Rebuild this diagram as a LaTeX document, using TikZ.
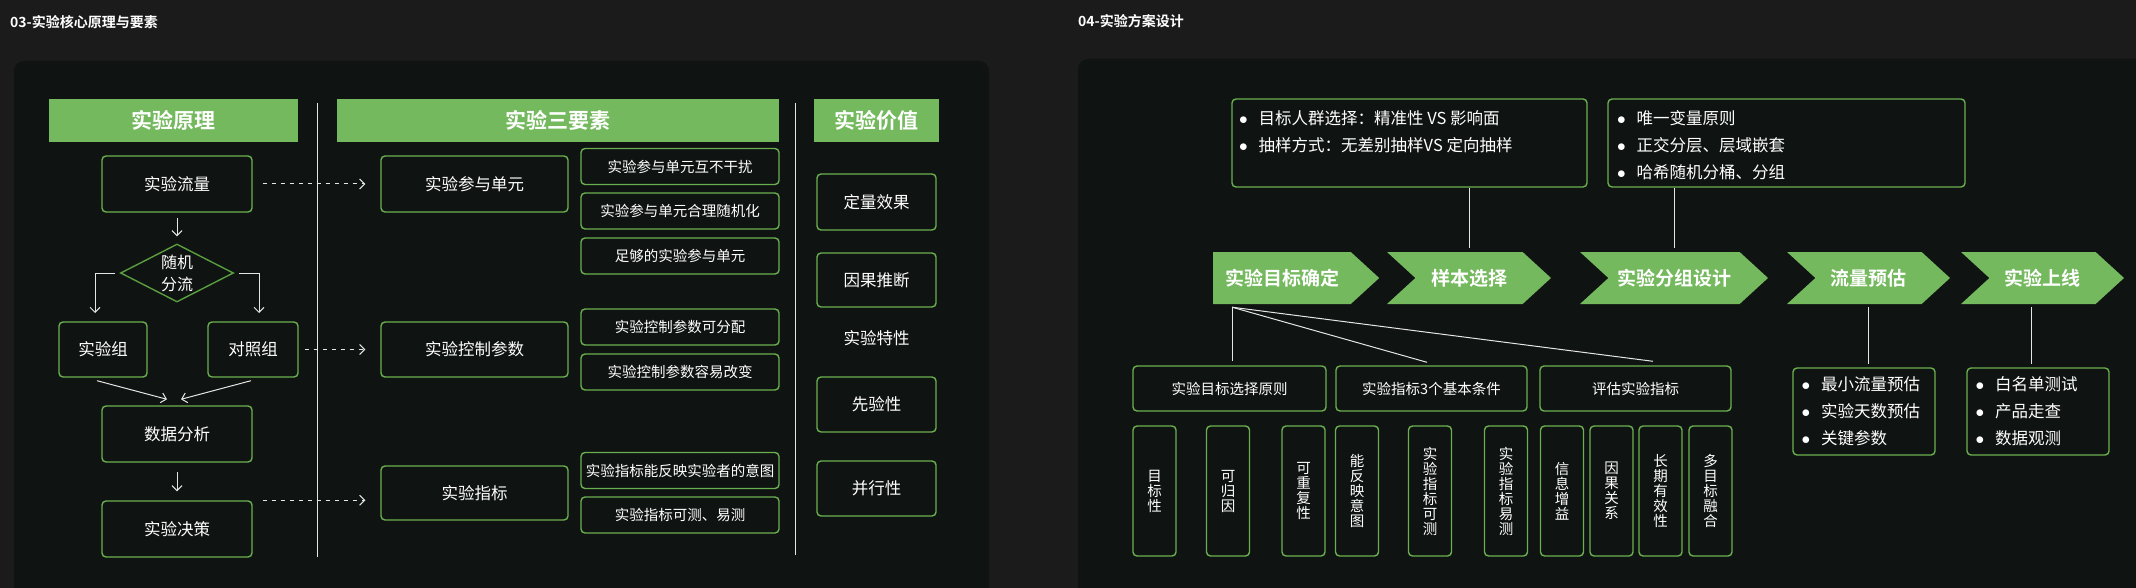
\documentclass[tikz,border=0pt]{standalone}
\usepackage{fontspec}
\setmainfont{Noto Sans CJK SC}[BoldFont={Noto Sans CJK SC Bold}]
\usetikzlibrary{shapes.geometric,shapes.symbols,arrows.meta}
\definecolor{pagebg}{HTML}{1B1B1B}
\definecolor{panelbg}{HTML}{0F1312}
\definecolor{leafgreen}{HTML}{74B95D}
\definecolor{edgegreen}{HTML}{6AB04E}
\definecolor{diamgreen}{HTML}{5A9E40}
\definecolor{linegray}{HTML}{E6E6E6}
\newcommand{\dotitem}{\makebox[19.5pt][l]{$\bullet$}}

\begin{document}
\begin{tikzpicture}[x=1pt, y=-1pt,
    every node/.style={text=white, inner sep=0pt},
    head/.style={fill=leafgreen, font=\bfseries\fontsize{21}{24}\selectfont, minimum height=43},
    card/.style={draw=edgegreen, line width=1.4pt, rounded corners=4pt, fill=panelbg, font=\fontsize{16.5}{20}\selectfont},
    tipbox/.style={card, font=\fontsize{14.5}{17}\selectfont, minimum width=198, minimum height=36},
    tallbox/.style={card, font=\fontsize{14.5}{15}\selectfont, align=center, minimum width=43, minimum height=130},
    splitbox/.style={diamond, draw=diamgreen, line width=1.4pt, minimum width=113, minimum height=58},
    stage/.style={signal, signal to=east, signal from=west, signal pointer angle=85, fill=leafgreen, font=\bfseries\fontsize{19}{22}\selectfont, minimum height=52},
    list/.style={font=\fontsize{16.5}{27}\selectfont, align=left},
    link/.style={draw=linegray, line width=1pt},
    flow/.style={link, -{Straight Barb[length=5pt, width=10pt]}},
    hint/.style={flow, dash pattern=on 4.5pt off 4.5pt}]

    \useasboundingbox (0,0) rectangle (2136,588);
    \fill[pagebg] (0,0) rectangle (2136,588);
    \begin{scope}
        \clip (0,0) rectangle (2136,588);
        \fill[panelbg, rounded corners=10pt] (14,61) rectangle (989,620);
        \fill[panelbg, rounded corners=10pt] (1078,59) rectangle (2170,620);
    \end{scope}

    \node[anchor=west, font=\bfseries\fontsize{14}{16}\selectfont] (title3) at (10,22) {03-实验核心原理与要素};
    \node[anchor=west, font=\bfseries\fontsize{14}{16}\selectfont] (title4) at (1078,21) {04-实验方案设计};

    \node[head, minimum width=249] (hprinciple) at (173.5,120.5) {实验原理};
    \node[head, minimum width=442] (helements) at (558,120.5) {实验三要素};
    \node[head, minimum width=125] (hvalue) at (876.5,120.5) {实验价值};
    \draw[link] (317,103) -- (317,557);
    \draw[link] (795,103) -- (795,555);

    \node[card, minimum width=150, minimum height=56] (traffic) at (177,184) {实验流量};
    \node[splitbox] (split) at (177,273) {};
    \node[font=\fontsize{16}{22}\selectfont, align=center] (splittxt) at (split) {随机\\分流};
    \node[card, minimum width=88, minimum height=55] (treat) at (103,349.5) {实验组};
    \node[card, minimum width=90, minimum height=55] (ctrl) at (253,349.5) {对照组};
    \node[card, minimum width=150, minimum height=56] (analysis) at (177,434) {数据分析};
    \node[card, minimum width=150, minimum height=56] (decision) at (177,529) {实验决策};
    \coordinate (inL) at (95,313);
    \coordinate (inR) at (259,313);
    \draw[flow, shorten <=5pt, shorten >=7pt] (traffic) -- (split);
    \draw[flow, shorten <=5pt] (split.west) -| (inL);
    \draw[flow, shorten <=5pt] (split.east) -| (inR);
    \draw[flow] ([xshift=-6pt, yshift=-3pt]treat.south) -- ([xshift=-10pt, yshift=6pt]analysis.north);
    \draw[flow] ([xshift=-2pt, yshift=-3pt]ctrl.south) -- ([xshift=4pt, yshift=6pt]analysis.north);
    \draw[flow, shorten <=9pt, shorten >=9pt] (analysis) -- (decision);

    \node[card, minimum width=187, minimum height=56] (unit) at (474.5,184) {实验参与单元};
    \node[card, minimum width=187, minimum height=55] (param) at (474.5,349.5) {实验控制参数};
    \node[card, minimum width=187, minimum height=54] (metric) at (474.5,493) {实验指标};
    \node[tipbox] (unit1) at (680,166.5) {实验参与单元互不干扰};
    \node[tipbox] (unit2) at (680,211) {实验参与单元合理随机化};
    \node[tipbox] (unit3) at (680,256) {足够的实验参与单元};
    \node[tipbox] (param1) at (680,327) {实验控制参数可分配};
    \node[tipbox] (param2) at (680,372) {实验控制参数容易改变};
    \node[tipbox] (metric1) at (680,470.5) {实验指标能反映实验者的意图};
    \node[tipbox] (metric2) at (680,515) {实验指标可测、易测};
    \draw[hint, shorten <=10pt, shorten >=15pt] (traffic) -- (unit);
    \draw[hint, shorten <=6pt, shorten >=15pt] (ctrl) -- (param);
    \draw[hint, shorten <=10pt, shorten >=15pt] (decision.north east) -- (decision.north east -| metric.west);

    \node[card, minimum width=119, minimum height=56] (value1) at (876.5,202) {定量效果};
    \node[card, minimum width=119, minimum height=54] (value2) at (876.5,280) {因果推断};
    \node[font=\fontsize{16.5}{20}\selectfont] (trait) at (876.5,338) {实验特性};
    \node[card, minimum width=119, minimum height=55] (value3) at (876.5,404.5) {先验性};
    \node[card, minimum width=119, minimum height=55] (value4) at (876.5,488.5) {并行性};

    \node[card, minimum width=355, minimum height=88] (aim) at (1409.5,143) {};
    \node[card, minimum width=357, minimum height=88] (group) at (1786.5,143) {};
    \node[list, anchor=north west] (aimtxt) at (1239,110) {\dotitem 目标人群选择：精准性 VS 影响面\\\dotitem 抽样方式：无差别抽样VS 定向抽样};
    \node[list, anchor=north west] (grouptxt) at (1617,110) {\dotitem 唯一变量原则\\\dotitem 正交分层、层域嵌套\\\dotitem 哈希随机分桶、分组};

    \node[stage, signal from=nowhere, minimum width=166] (goal) at (1282,278) {实验目标确定};
    \node[stage, minimum width=164] (sample) at (1469,278) {样本选择};
    \node[stage, minimum width=188] (design) at (1674,278) {实验分组设计};
    \node[stage, minimum width=163] (volume) at (1868.5,278) {流量预估};
    \node[stage, minimum width=163] (launch) at (2042.5,278) {实验上线};
    \draw[link, shorten >=4pt] (aim.south -| sample.north) -- (sample.north);
    \draw[link, shorten >=4pt] (group.south -| design.north) -- (design.north);

    \node[card, font=\fontsize{14.5}{17}\selectfont, minimum width=193, minimum height=45] (pick) at (1229.5,388.5) {实验目标选择原则};
    \node[card, font=\fontsize{14.5}{17}\selectfont, minimum width=191, minimum height=45] (basic) at (1431.5,388.5) {实验指标3个基本条件};
    \node[card, font=\fontsize{14.5}{17}\selectfont, minimum width=191, minimum height=45] (judge) at (1635.5,388.5) {评估实验指标};
    \coordinate (fan) at ([xshift=-50pt, yshift=-3pt]goal.south);
    \draw[link] (fan) -- ([xshift=2.5pt, yshift=4pt]pick.north);
    \draw[link] (fan) -- ([xshift=-4.5pt, yshift=3pt]basic.north);
    \draw[link] (fan) -- ([xshift=17.5pt, yshift=4pt]judge.north);

    \node[tallbox] (target) at (1154.5,491) {目\\标\\性};
    \node[tallbox] (cause) at (1228,491) {可\\归\\因};
    \node[tallbox] (redo) at (1303.5,491) {可\\重\\复\\性};
    \node[tallbox] (intent) at (1357,491) {能\\反\\映\\意\\图};
    \node[tallbox] (measure) at (1430,491) {实\\验\\指\\标\\可\\测};
    \node[tallbox] (easy) at (1506,491) {实\\验\\指\\标\\易\\测};
    \node[tallbox] (gain) at (1562,491) {信\\息\\增\\益};
    \node[tallbox] (causal) at (1611.5,491) {因\\果\\关\\系};
    \node[tallbox] (lasting) at (1660.5,491) {长\\期\\有\\效\\性};
    \node[tallbox] (fusion) at (1710.5,491) {多\\目\\标\\融\\合};

    \node[card, list, minimum width=142, minimum height=87, text width=125, inner xsep=8.5pt] (size) at (1864,411.5) {\dotitem 最小流量预估\\\dotitem 实验天数预估\\\dotitem 关键参数};
    \node[card, list, minimum width=142, minimum height=87, text width=125, inner xsep=8.5pt] (rollout) at (2038,411.5) {\dotitem 白名单测试\\\dotitem 产品走查\\\dotitem 数据观测};
    \draw[link, shorten <=3pt, shorten >=3pt] (volume.south) -- (volume.south |- size.north);
    \draw[link, shorten <=3pt, shorten >=3pt] ([xshift=-11.5pt]launch.south) -- ([xshift=-7pt]rollout.north);
\end{tikzpicture}
\end{document}
